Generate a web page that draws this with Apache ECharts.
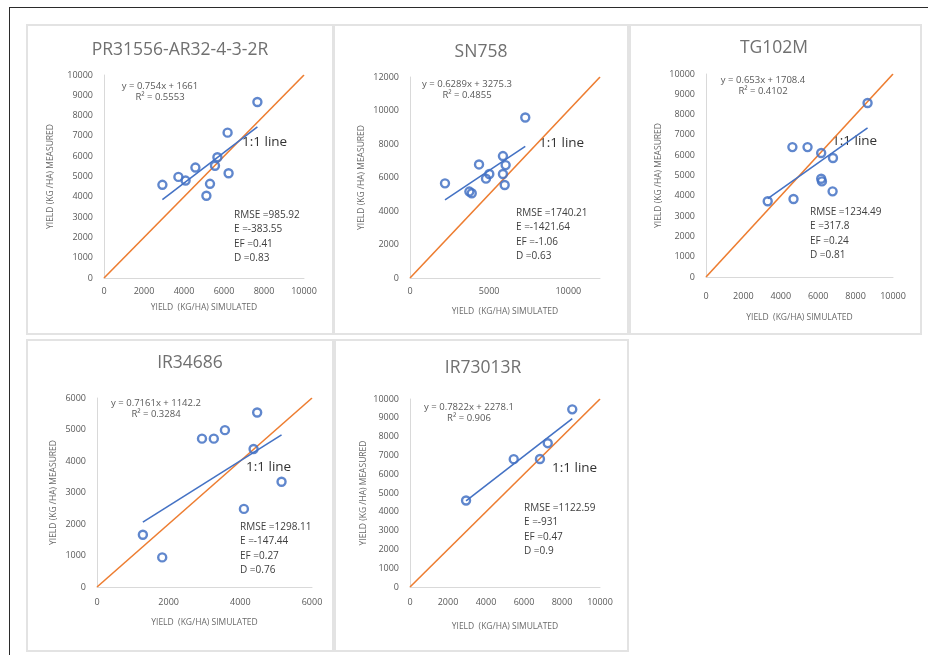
<!DOCTYPE html>
<html>
<head>
<meta charset="utf-8">
<script src="https://cdn.jsdelivr.net/npm/echarts@6/dist/echarts.min.js"></script>
<style>
  html, body { margin: 0; padding: 0; background: #fff; }
  #frame { position: absolute; left: 9px; top: 7px; width: 940px; height: 660px;
           border-top: 1.5px solid #2b2b2b; border-left: 1.5px solid #2b2b2b; }
  #main { position: absolute; left: 0; top: 0; width: 928px; height: 655px; }
</style>
</head>
<body>
<div id="frame"></div>
<div id="main"></div>
<script>
// cultivar names (panel titles)
const cultivars = ['PR31556-AR32-4-3-2R', 'SN758', 'TG102M', 'IR34686', 'IR73013R'];

// simulated (x) and measured (y) yields, kg/ha
const simPR = [2920, 3720, 4080, 4570, 5670, 5550, 6180, 6230, 5300, 5120, 7670];
const measPR = [4590, 4980, 4800, 5440, 5950, 5530, 7160, 5160, 4640, 4050, 8670];
const simSN = [2210, 3750, 3900, 4360, 4800, 5010, 5870, 6040, 5870, 5980, 7280];
const measSN = [5650, 5160, 5060, 6780, 5930, 6210, 7280, 6740, 6210, 5550, 9580];
const simTG = [3300, 4620, 4680, 5430, 6160, 6160, 6200, 6790, 6770, 8640];
const measTG = [3730, 6400, 3840, 6400, 6110, 4840, 4710, 5860, 4220, 8570];
const simIR34 = [1280, 1820, 2930, 3260, 3570, 4470, 4370, 4100, 5150];
const measIR34 = [1660, 940, 4710, 4710, 4980, 5540, 4380, 2480, 3340];
const simIR73 = [2950, 5460, 7250, 6840, 8540];
const measIR73 = [4600, 6800, 7650, 6810, 9450];

// linear fit shown on each panel
const slopes = [0.754, 0.6289, 0.653, 0.7161, 0.7822];
const intercepts = [1661, 3275.3, 1708.4, 1142.2, 2278.1];
const rSquared = ['0.5553', '0.4855', '0.4102', '0.3284', '0.906'];

// goodness-of-fit statistics
const rmse = ['985.92', '1740.21', '1234.49', '1298.11', '1122.59'];
const errE = ['-383.55', '-1421.64', '317.8', '-147.44', '-931'];
const effEF = ['0.41', '-1.06', '0.24', '0.27', '0.47'];
const indexD = ['0.83', '0.63', '0.81', '0.76', '0.9'];

// axis ranges and tick steps
const axisMax = [10000, 12000, 10000, 6000, 10000];
const xStep = [2000, 5000, 2000, 2000, 2000];
const yStep = [1000, 2000, 1000, 1000, 1000];

const sims = [simPR, simSN, simTG, simIR34, simIR73];
const meas = [measPR, measSN, measTG, measIR34, measIR73];

// layout of each panel (pixels)
const grids = [
  { left: 104, top: 75, width: 200, height: 203 },
  { left: 410, top: 77, width: 190, height: 201 },
  { left: 706, top: 74, width: 187, height: 203 },
  { left: 97, top: 398, width: 215, height: 189 },
  { left: 410, top: 399, width: 190, height: 188 }
];
const boxes = [
  [27, 25, 306, 309], [334, 25, 294, 309], [630, 25, 291, 309],
  [27, 340, 306, 311], [335, 340, 293, 311]
];
const xLabelMargin = [9, 9, 15, 11, 11];
const xNameGap = [25, 29, 36, 31, 35];
const yNameGap = [49, 44, 43, 39, 42];
const titlePos = [[180, 50], [481, 52], [774, 48], [190, 363], [483, 368]];
const eqPos = [[160, 92], [467, 90], [763, 86], [156, 409], [469, 413]];
const onePos = [[242, 142], [539, 143], [832, 141], [246, 467], [552, 468]];
const statPos = [[234, 215], [516, 213], [810, 212], [240, 527], [524, 508]];

const FONT = '"Open Sans", Lato, sans-serif';
const GREY = '#595959';
const BLUE = '#4472C4';
const ORANGE = '#ED7D31';

const chart = echarts.init(document.getElementById('main'));

const xAxes = [], yAxes = [], series = [], graphics = [];

grids.forEach(function (g, i) {
  xAxes.push({
    gridIndex: i, type: 'value', min: 0, max: axisMax[i], interval: xStep[i],
    name: 'YIELD  (KG/HA) SIMULATED', nameLocation: 'middle', nameGap: xNameGap[i],
    nameTextStyle: { color: '#6a6a6a', fontSize: 8.5, fontFamily: FONT },
    axisLine: { show: true, lineStyle: { color: '#d9d9d9', width: 1 } },
    axisTick: { show: false },
    splitLine: { show: false },
    axisLabel: {
      color: GREY, fontSize: 9, fontFamily: FONT, margin: xLabelMargin[i],
      showMaxLabel: axisMax[i] % xStep[i] === 0,
      formatter: function (v) { return String(v); }
    }
  });
  yAxes.push({
    gridIndex: i, type: 'value', min: 0, max: axisMax[i], interval: yStep[i],
    name: 'YIELD (KG /HA) MEASURED', nameLocation: 'middle', nameGap: yNameGap[i],
    nameTextStyle: { color: '#6a6a6a', fontSize: 8.5, fontFamily: FONT },
    axisLine: { show: true, lineStyle: { color: '#d9d9d9', width: 1 } },
    axisTick: { show: false },
    splitLine: { show: false },
    axisLabel: {
      color: GREY, fontSize: 9, fontFamily: FONT, margin: 11,
      formatter: function (v) { return String(v); }
    }
  });

  // 1:1 line
  series.push({
    type: 'line', xAxisIndex: i, yAxisIndex: i, symbol: 'none', silent: true,
    lineStyle: { color: ORANGE, width: 1.6 },
    data: [[0, 0], [axisMax[i], axisMax[i]]], z: 2
  });
  // observations
  series.push({
    type: 'scatter', xAxisIndex: i, yAxisIndex: i, symbol: 'circle', symbolSize: 8,
    itemStyle: { color: 'rgba(255,255,255,0)', borderColor: BLUE, borderWidth: 2.4, opacity: 0.85 },
    data: sims[i].map(function (x, k) { return [x, meas[i][k]]; }), z: 3
  });
  // linear trend over the simulated range
  const lo = Math.min.apply(null, sims[i]);
  const hi = Math.max.apply(null, sims[i]);
  series.push({
    type: 'line', xAxisIndex: i, yAxisIndex: i, symbol: 'none', silent: true,
    lineStyle: { color: BLUE, width: 1.6 },
    data: [[lo, slopes[i] * lo + intercepts[i]], [hi, slopes[i] * hi + intercepts[i]]], z: 4
  });

  const b = boxes[i];
  graphics.push({
    type: 'rect', shape: { x: b[0], y: b[1], width: b[2], height: b[3] },
    style: { fill: 'none', stroke: '#e3e3e3', lineWidth: 2 }, z: 0
  });
  graphics.push({
    type: 'text', x: titlePos[i][0], y: titlePos[i][1],
    style: { text: cultivars[i], fill: '#707070', font: '17.5px ' + FONT, textAlign: 'center', textVerticalAlign: 'middle' }
  });
  const sign = intercepts[i] >= 0 ? '+' : '-';
  graphics.push({
    type: 'text', x: eqPos[i][0], y: eqPos[i][1],
    style: {
      text: 'y = ' + slopes[i] + 'x ' + sign + ' ' + Math.abs(intercepts[i]) + '\nR² = ' + rSquared[i],
      fill: GREY, font: '9.5px ' + FONT, textAlign: 'center', textVerticalAlign: 'middle', lineHeight: 11
    }
  });
  graphics.push({
    type: 'text', x: onePos[i][0], y: onePos[i][1],
    style: { text: '1:1 line', fill: '#333', font: '13.5px ' + FONT, textAlign: 'left', textVerticalAlign: 'middle' }
  });
  graphics.push({
    type: 'text', x: statPos[i][0], y: statPos[i][1] - 7,
    style: {
      text: 'RMSE =' + rmse[i] + '\nE =' + errE[i] + '\nEF =' + effEF[i] + '\nD =' + indexD[i],
      fill: '#404040', font: '10px ' + FONT, textAlign: 'left', textVerticalAlign: 'top', lineHeight: 14.3
    }
  });
});

chart.setOption({
  animation: false,
  grid: grids,
  xAxis: xAxes,
  yAxis: yAxes,
  series: series,
  graphic: graphics
});
</script>
</body>
</html>
